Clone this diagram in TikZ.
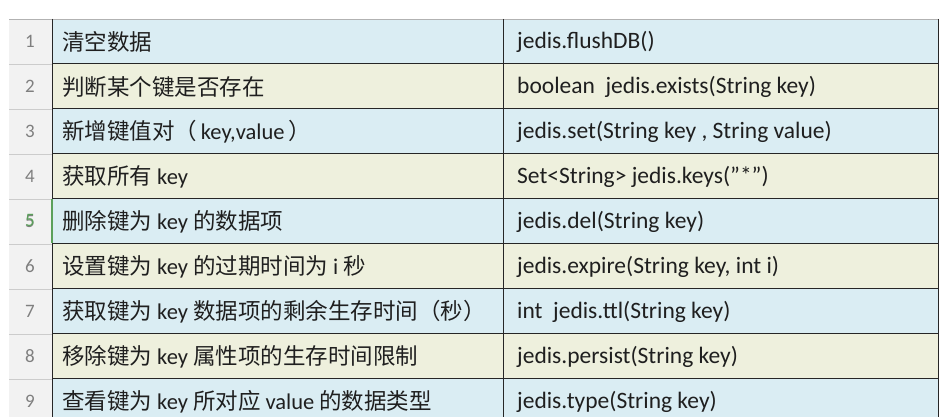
\documentclass[tikz,border=0pt]{standalone}
\usepackage{fontspec}
\setmainfont{Carlito}
\newfontfamily\cjk{Noto Sans CJK SC}
\definecolor{rb}{HTML}{DAEDF3}
\definecolor{ry}{HTML}{EEF0DD}
\definecolor{nc}{HTML}{F2F2F2}
\definecolor{ng}{HTML}{7F7F7F}
\definecolor{sel}{HTML}{5BA05B}
\begin{document}
\begin{tikzpicture}[x=1pt,y=-1pt,
  txt/.style={anchor=west,inner sep=0pt,font=\fontsize{22.5}{26}\selectfont,text=black!88},
  cod/.style={anchor=west,inner sep=0pt,font=\fontsize{23.5}{26}\selectfont,text=black!88},
  num/.style={inner sep=0pt,font=\fontsize{19}{22}\selectfont\rmfamily,text=ng}]
\clip (0,0) rectangle (941,417);
\fill[white] (0,0) rectangle (941,417);
\fill[nc] (9,19) rectangle (52,430);
\foreach \i/\a/\b [count=\k] in {
 1/{\cjk 清空数据}/{jedis.flushDB()},
 2/{\cjk 判断某个键是否存在}/{boolean\ \ jedis.exists(String key)},
 3/{\cjk 新增键值对（\,{\rmfamily key,value}\,）}/{jedis.set(String key\ ,\ String value)},
 4/{\cjk 获取所有 {\rmfamily key}}/{Set<String> jedis.keys(\symbol{34}*\symbol{34})},
 5/{\cjk 删除键为 {\rmfamily key} 的数据项}/{jedis.del(String key)},
 6/{\cjk 设置键为 {\rmfamily key} 的过期时间为 {\rmfamily i} 秒}/{jedis.expire(String key, int i)},
 7/{\cjk 获取键为 {\rmfamily key} 数据项的剩余生存时间（秒）}/{int\ \ jedis.ttl(String key)},
 8/{\cjk 移除键为 {\rmfamily key} 属性项的生存时间限制}/{jedis.persist(String key)},
 9/{\cjk 查看键为 {\rmfamily key} 所对应 {\rmfamily value} 的数据类型}/{jedis.type(String key)}}{
  \pgfmathsetmacro\t{19+45*(\i-1)}
  \pgfmathsetmacro\m{\t+22.5}
  \ifodd\i \def\c{rb}\else\def\c{ry}\fi
  \fill[\c] (52,\t) rectangle (938,\t+45);
  \node[txt] (a\i) at (62,\m) {\a};
  \node[cod] (b\i) at (517,\m) {\b};
  \node[num] (n\i) at (30,\m) {\i};
  \draw[black!85,line width=1.3pt] (52,\t+45) -- (938,\t+45);
  \draw[black!20] (9,\t+45) -- (52,\t+45);
}
\draw[black!30] (9,19) -- (938,19);
\draw[black!85,line width=1pt] (52,19) -- (52,430);
\draw[black!85,line width=1pt] (503,19) -- (503,430);
\draw[black!85,line width=1pt] (938,19) -- (938,430);
\draw[sel,line width=2pt] (52,199) -- (52,243);
\node[num,text=sel] at (30,220.5) {5};
\end{tikzpicture}
\end{document}
